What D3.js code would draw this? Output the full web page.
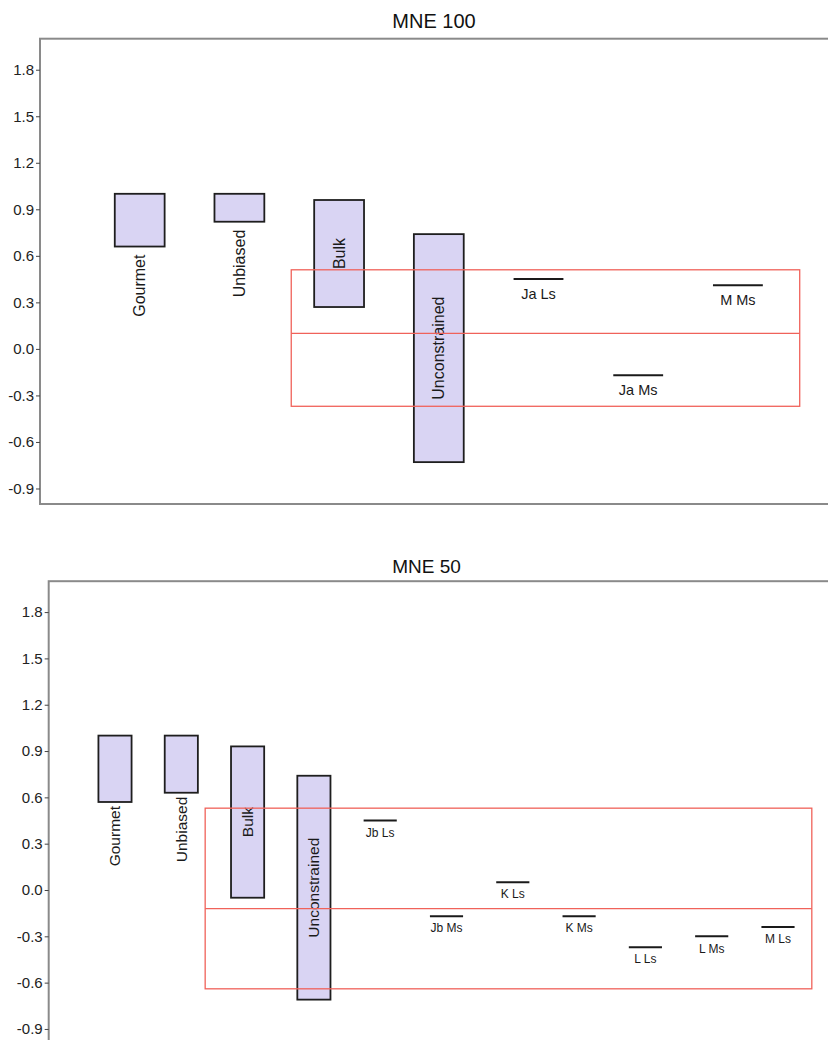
<!DOCTYPE html>
<html>
<head>
<meta charset="utf-8">
<script src="https://cdn.jsdelivr.net/npm/d3@7"></script>
<style>
  body { margin: 0; background: #fff; }
  text { font-family: "Liberation Sans", Arial, Helvetica, sans-serif; }
</style>
</head>
<body>
<svg id="chart" width="828" height="1040"></svg>
<script>
// ---------- DATA ----------
const yTicks = [-0.9, -0.6, -0.3, 0.0, 0.3, 0.6, 0.9, 1.2, 1.5, 1.8];

// Panel 1: MNE 100
const p1Title = "MNE 100";
const p1BarNames = ["Gourmet", "Unbiased", "Bulk", "Unconstrained"];
const p1BarLow  = [0.66, 0.82, 0.27, -0.73];
const p1BarHigh = [1.00, 1.00, 0.96, 0.74];
const p1LineNames  = ["Ja Ls", "Ja Ms", "M Ms"];
const p1LineValues = [0.45, -0.17, 0.41];
const p1Box = { x0: 2.52, x1: 7.62, top: 0.51, mid: 0.10, bottom: -0.37 };

// Panel 2: MNE 50
const p2Title = "MNE 50";
const p2BarNames = ["Gourmet", "Unbiased", "Bulk", "Unconstrained"];
const p2BarLow  = [0.57, 0.63, -0.05, -0.71];
const p2BarHigh = [1.00, 1.00, 0.93, 0.74];
const p2LineNames  = ["Jb Ls", "Jb Ms", "K Ls", "K Ms", "L Ls", "L Ms", "M Ls"];
const p2LineValues = [0.45, -0.17, 0.05, -0.17, -0.37, -0.30, -0.24];
const p2Box = { x0: 2.36, x1: 11.51, top: 0.53, mid: -0.12, bottom: -0.64 };

// ---------- DRAW ----------
const svg = d3.select("#chart");

function drawPanel(opt) {
  const names = opt.barNames.concat(opt.lineNames);
  const n = names.length;
  const x = d3.scaleLinear().domain([0, n + 1]).range([opt.left, opt.right]);
  const y = d3.scaleLinear().domain([-1, 2]).range([opt.bottom, opt.top]);
  const step = x(1) - x(0);
  const w = step * 0.5;
  const g = svg.append("g");

  // title
  g.append("text")
    .attr("x", opt.titleX).attr("y", opt.titleY)
    .attr("text-anchor", "middle")
    .attr("font-size", opt.titleSize)
    .attr("fill", "#111")
    .text(opt.title);

  // frame
  g.append("rect")
    .attr("x", opt.left).attr("y", opt.top)
    .attr("width", opt.right - opt.left).attr("height", opt.bottom - opt.top)
    .attr("fill", "none").attr("stroke", "#8a8a8a").attr("stroke-width", 2);

  // y axis
  const ax = g.append("g")
    .attr("transform", `translate(${opt.left},0)`)
    .call(d3.axisLeft(y).tickValues(yTicks).tickFormat(d => d.toFixed(1)).tickSize(4).tickPadding(2));
  ax.select(".domain").remove();
  ax.selectAll(".tick line").attr("stroke", "#444");
  ax.selectAll(".tick text")
    .attr("font-size", opt.tickSize)
    .attr("fill", "#222")
    .style("font-family", '"Liberation Sans", Arial, sans-serif');

  // bars
  const bars = opt.barNames.map((name, i) => ({ name, i: i + 1, lo: opt.barLow[i], hi: opt.barHigh[i] }));
  g.selectAll("rect.bar").data(bars).enter().append("rect")
    .attr("class", "bar")
    .attr("x", d => x(d.i) - w / 2)
    .attr("width", w)
    .attr("y", d => y(d.hi))
    .attr("height", d => y(d.lo) - y(d.hi))
    .attr("fill", "#d9d4f3")
    .attr("stroke", "#1e1e1e")
    .attr("stroke-width", 1.8);

  // bar labels (rotated)
  bars.forEach(d => {
    const cx = x(d.i);
    const t = g.append("text")
      .attr("font-size", opt.barLabelSize)
      .attr("fill", "#1a1a1a")
      .text(d.name);
    const len = t.node().getComputedTextLength();
    const h = y(d.lo) - y(d.hi);
    let cy, anchor;
    if (h > len * 1.5) {
      cy = (y(d.lo) + y(d.hi)) / 2; anchor = "middle";
    } else {
      cy = y(d.lo) + opt.labelGap; anchor = "end";
    }
    t.attr("text-anchor", anchor)
      .attr("dy", "0.35em")
      .attr("transform", `translate(${cx},${cy}) rotate(-90)`);
  });

  // horizontal line marks
  const lines = opt.lineNames.map((name, i) => ({ name, i: opt.barNames.length + i + 1, v: opt.lineValues[i] }));
  g.selectAll("line.mark").data(lines).enter().append("line")
    .attr("class", "mark")
    .attr("x1", d => x(d.i) - w / 2)
    .attr("x2", d => x(d.i) + w / 2)
    .attr("y1", d => y(d.v))
    .attr("y2", d => y(d.v))
    .attr("stroke", "#1a1a1a")
    .attr("stroke-width", 2);
  g.selectAll("text.mark").data(lines).enter().append("text")
    .attr("class", "mark")
    .attr("x", d => x(d.i))
    .attr("y", d => y(d.v) + opt.lineLabelSize * 1.35)
    .attr("text-anchor", "middle")
    .attr("font-size", opt.lineLabelSize)
    .attr("fill", "#1a1a1a")
    .text(d => d.name);

  // red box
  const b = opt.box;
  g.append("rect")
    .attr("x", x(b.x0)).attr("y", y(b.top))
    .attr("width", x(b.x1) - x(b.x0)).attr("height", y(b.bottom) - y(b.top))
    .attr("fill", "none").attr("stroke", "#f0625a").attr("stroke-width", 1.3);
  g.append("line")
    .attr("x1", x(b.x0)).attr("x2", x(b.x1))
    .attr("y1", y(b.mid)).attr("y2", y(b.mid))
    .attr("stroke", "#f0625a").attr("stroke-width", 1.3);
}

drawPanel({
  title: p1Title, titleX: 434, titleY: 27.5, titleSize: 20,
  left: 40, right: 837.6, top: 38.7, bottom: 504,
  barNames: p1BarNames, barLow: p1BarLow, barHigh: p1BarHigh,
  lineNames: p1LineNames, lineValues: p1LineValues, box: p1Box,
  tickSize: 15, barLabelSize: 16, lineLabelSize: 14.5, labelGap: 8
});

drawPanel({
  title: p2Title, titleX: 426.5, titleY: 572.7, titleSize: 19,
  left: 48.7, right: 844.3, top: 581.2, bottom: 1044.4,
  barNames: p2BarNames, barLow: p2BarLow, barHigh: p2BarHigh,
  lineNames: p2LineNames, lineValues: p2LineValues, box: p2Box,
  tickSize: 15, barLabelSize: 15.5, lineLabelSize: 12, labelGap: 4
});
</script>
</body>
</html>
